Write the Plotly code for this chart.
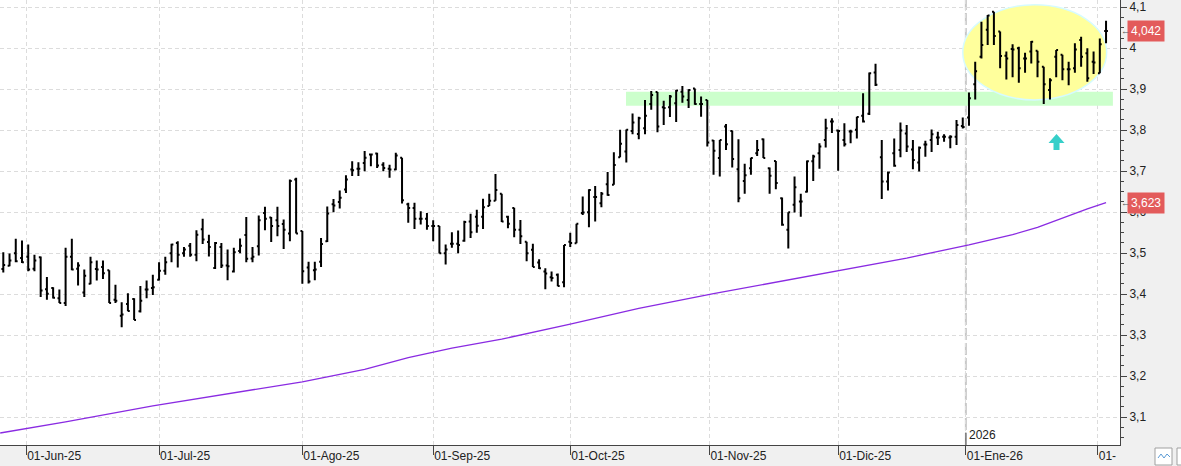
import numpy as np
import pandas as pd
import plotly.graph_objects as go

# ---------------- data ----------------
start_date = "2025-05-27"
end_date = "2026-02-03"
holidays = ["2025-12-25", "2025-12-26", "2026-01-01"]

opens = [3.461, 3.469, 3.500, 3.488, 3.491, 3.462, 3.490, 3.412, 3.415, 3.390,
         3.378, 3.491, 3.462, 3.404, 3.425, 3.461, 3.466, 3.458, 3.386, 3.347,
         3.376, 3.388, 3.358, 3.411, 3.415, 3.435, 3.457, 3.500, 3.525, 3.500,
         3.518, 3.496, 3.558, 3.527, 3.464, 3.515, 3.470, 3.455, 3.505, 3.544,
         3.487, 3.517, 3.598, 3.587, 3.580, 3.571, 3.548, 3.680, 3.554, 3.465,
         3.458, 3.479, 3.529, 3.619, 3.625, 3.655, 3.704, 3.706, 3.720, 3.741,
         3.743, 3.716, 3.706, 3.704, 3.733, 3.619, 3.610, 3.584, 3.584, 3.566,
         3.566, 3.500, 3.523, 3.523, 3.530, 3.577, 3.589, 3.589, 3.615, 3.628,
         3.645, 3.589, 3.610, 3.557, 3.528, 3.508, 3.477, 3.455, 3.441, 3.447,
         3.429, 3.528, 3.524, 3.598, 3.600, 3.637, 3.622, 3.668, 3.667, 3.734,
         3.748, 3.798, 3.791, 3.805, 3.864, 3.893, 3.856, 3.856, 3.866, 3.894,
         3.874, 3.902, 3.864, 3.874, 3.775, 3.732, 3.809, 3.798, 3.705, 3.676,
         3.707, 3.744, 3.778, 3.707, 3.725, 3.634, 3.557, 3.618, 3.626, 3.650,
         3.724, 3.744, 3.776, 3.821, 3.799, 3.776, 3.797, 3.801, 3.835, 3.840,
         3.941, 3.734, 3.675, 3.744, 3.752, 3.792, 3.753, 3.721, 3.765, 3.776,
         3.782, 3.784, 3.782, 3.784, 3.810, 3.831, 3.912, 3.979, 4.045, 4.089,
         4.041, 3.982, 3.998, 4.000, 3.975, 3.992, 3.994, 3.955, 3.898, 3.979,
         3.984, 3.949, 3.951, 4.020, 3.988, 3.967, 3.939, 4.042]

highs = [3.502, 3.499, 3.535, 3.531, 3.521, 3.496, 3.492, 3.442, 3.417, 3.411,
         3.513, 3.535, 3.478, 3.460, 3.491, 3.482, 3.482, 3.458, 3.423, 3.380,
         3.402, 3.390, 3.420, 3.433, 3.447, 3.478, 3.491, 3.523, 3.529, 3.515,
         3.525, 3.556, 3.584, 3.545, 3.527, 3.525, 3.509, 3.513, 3.536, 3.588,
         3.515, 3.592, 3.613, 3.588, 3.613, 3.582, 3.680, 3.684, 3.554, 3.479,
         3.479, 3.537, 3.614, 3.632, 3.653, 3.690, 3.724, 3.722, 3.749, 3.743,
         3.745, 3.722, 3.716, 3.745, 3.733, 3.623, 3.623, 3.602, 3.598, 3.580,
         3.566, 3.521, 3.551, 3.555, 3.579, 3.596, 3.606, 3.633, 3.645, 3.693,
         3.645, 3.591, 3.611, 3.581, 3.528, 3.523, 3.485, 3.463, 3.455, 3.450,
         3.520, 3.550, 3.572, 3.638, 3.656, 3.664, 3.649, 3.698, 3.746, 3.801,
         3.802, 3.841, 3.833, 3.874, 3.896, 3.893, 3.872, 3.886, 3.898, 3.908,
         3.900, 3.902, 3.882, 3.874, 3.776, 3.776, 3.815, 3.799, 3.778, 3.718,
         3.733, 3.776, 3.780, 3.709, 3.725, 3.636, 3.600, 3.687, 3.645, 3.726,
         3.740, 3.768, 3.828, 3.829, 3.801, 3.817, 3.801, 3.833, 3.890, 3.941,
         3.962, 3.776, 3.699, 3.780, 3.819, 3.813, 3.776, 3.760, 3.774, 3.802,
         3.796, 3.790, 3.788, 3.825, 3.831, 3.892, 3.967, 4.065, 4.081, 4.089,
         4.041, 3.992, 4.010, 4.004, 3.989, 4.018, 3.994, 3.955, 3.927, 3.996,
         3.984, 3.967, 4.012, 4.028, 4.000, 3.992, 4.024, 4.067]

lows = [3.453, 3.468, 3.478, 3.476, 3.456, 3.456, 3.393, 3.386, 3.389, 3.378,
        3.371, 3.458, 3.421, 3.393, 3.424, 3.433, 3.437, 3.378, 3.378, 3.319,
        3.358, 3.337, 3.355, 3.390, 3.398, 3.433, 3.447, 3.478, 3.465, 3.491,
        3.491, 3.480, 3.522, 3.492, 3.461, 3.464, 3.434, 3.453, 3.500, 3.478,
        3.478, 3.494, 3.556, 3.527, 3.541, 3.510, 3.529, 3.548, 3.425, 3.426,
        3.434, 3.466, 3.527, 3.600, 3.609, 3.647, 3.688, 3.688, 3.700, 3.712,
        3.708, 3.700, 3.684, 3.702, 3.621, 3.574, 3.559, 3.570, 3.557, 3.529,
        3.499, 3.472, 3.513, 3.500, 3.528, 3.537, 3.550, 3.559, 3.615, 3.628,
        3.576, 3.561, 3.539, 3.522, 3.480, 3.466, 3.461, 3.412, 3.431, 3.419,
        3.417, 3.515, 3.524, 3.593, 3.563, 3.577, 3.612, 3.640, 3.667, 3.734,
        3.721, 3.790, 3.778, 3.790, 3.850, 3.795, 3.813, 3.832, 3.820, 3.867,
        3.854, 3.862, 3.833, 3.760, 3.691, 3.687, 3.752, 3.709, 3.624, 3.645,
        3.691, 3.737, 3.732, 3.645, 3.656, 3.567, 3.511, 3.599, 3.589, 3.648,
        3.676, 3.706, 3.758, 3.793, 3.701, 3.760, 3.768, 3.780, 3.819, 3.837,
        3.908, 3.632, 3.653, 3.711, 3.734, 3.747, 3.705, 3.699, 3.735, 3.747,
        3.764, 3.772, 3.756, 3.764, 3.804, 3.811, 3.875, 3.975, 4.008, 4.008,
        3.951, 3.924, 3.929, 3.916, 3.940, 3.963, 3.929, 3.864, 3.875, 3.929,
        3.922, 3.910, 3.940, 3.955, 3.918, 3.937, 3.939, 4.012]

closes = [3.471, 3.482, 3.480, 3.478, 3.460, 3.482, 3.409, 3.401, 3.391, 3.378,
          3.491, 3.460, 3.470, 3.445, 3.478, 3.460, 3.451, 3.378, 3.384, 3.350,
          3.359, 3.337, 3.384, 3.411, 3.417, 3.457, 3.478, 3.521, 3.496, 3.509,
          3.496, 3.545, 3.533, 3.515, 3.525, 3.470, 3.468, 3.502, 3.518, 3.486,
          3.491, 3.580, 3.584, 3.566, 3.566, 3.557, 3.676, 3.548, 3.456, 3.431,
          3.460, 3.522, 3.597, 3.616, 3.635, 3.680, 3.702, 3.706, 3.733, 3.741,
          3.714, 3.708, 3.704, 3.738, 3.629, 3.610, 3.584, 3.584, 3.566, 3.566,
          3.500, 3.509, 3.523, 3.520, 3.576, 3.551, 3.567, 3.612, 3.628, 3.654,
          3.577, 3.572, 3.557, 3.541, 3.500, 3.466, 3.463, 3.450, 3.439, 3.420,
          3.520, 3.525, 3.572, 3.599, 3.654, 3.637, 3.645, 3.642, 3.715, 3.767,
          3.801, 3.819, 3.829, 3.835, 3.886, 3.809, 3.854, 3.882, 3.897, 3.882,
          3.898, 3.864, 3.864, 3.770, 3.750, 3.776, 3.766, 3.730, 3.634, 3.690,
          3.732, 3.752, 3.732, 3.689, 3.671, 3.569, 3.600, 3.661, 3.626, 3.724,
          3.736, 3.760, 3.805, 3.821, 3.798, 3.766, 3.797, 3.832, 3.821, 3.939,
          3.911, 3.675, 3.697, 3.713, 3.799, 3.760, 3.727, 3.757, 3.765, 3.790,
          3.782, 3.784, 3.784, 3.813, 3.808, 3.878, 3.944, 4.008, 4.080, 4.030,
          3.981, 3.975, 3.997, 3.951, 3.975, 4.016, 3.967, 3.912, 3.922, 3.996,
          3.949, 3.949, 3.997, 3.979, 3.927, 3.965, 4.010, 4.042]

# moving average read at selected bar positions
ma_idx = [-0.5, 10, 24, 36, 48, 58, 65, 72, 80, 91, 102, 114, 125, 134, 145, 155, 162, 166, 171, 174, 177]
ma_val = [3.061, 3.088, 3.127, 3.157, 3.186, 3.216, 3.245, 3.268, 3.290, 3.327, 3.365, 3.401,
          3.432, 3.456, 3.488, 3.520, 3.545, 3.563, 3.592, 3.608, 3.623]

month_starts = ["2025-06-01", "2025-07-01", "2025-08-01", "2025-09-01", "2025-10-01",
                "2025-11-01", "2025-12-01", "2026-01-01", "2026-02-01"]
month_labels = ["01-Jun-25", "01-Jul-25", "01-Ago-25", "01-Sep-25", "01-Oct-25",
                "01-Nov-25", "01-Dic-25", "01-Ene-26", "01-"]
year_start = "2026-01-01"
year_label = "2026"

last_price = 4.042
last_ma = 3.623
price_labels = ["4,042", "3,623"]
band_low, band_high = 3.860, 3.894
ellipse_low, ellipse_high = 3.874, 4.106

# ---------------- axis positions ----------------
dates = pd.bdate_range(start_date, end_date)
dates = dates[~dates.isin(pd.to_datetime(holidays))]
idx = np.arange(len(dates))
date_ord = np.array([d.toordinal() for d in dates], dtype=float)


def pos_of(date_str):
    return float(np.interp(pd.Timestamp(date_str).toordinal(), date_ord, idx))


tick_pos = [pos_of(d) for d in month_starts]
year_pos = pos_of(year_start)

x_min, x_max = -0.53, 179.24
y_min, y_max = 3.0317, 4.1178

fig = go.Figure()

fig.add_trace(go.Scatter(
    x=ma_idx, y=ma_val, mode="lines",
    line=dict(color="#8a2be2", width=1.3),
    hoverinfo="skip", showlegend=False))

fig.add_trace(go.Ohlc(
    x=idx, open=opens, high=highs, low=lows, close=closes,
    text=[d.strftime("%d-%m-%Y") for d in dates],
    increasing=dict(line=dict(color="black", width=2)),
    decreasing=dict(line=dict(color="black", width=2)),
    tickwidth=0.3, showlegend=False))

shapes = [
    # year separator
    dict(type="line", xref="x", yref="paper", x0=year_pos, x1=year_pos, y0=0, y1=1,
         line=dict(color="#c8c8c8", width=2, dash="12px,3px"), layer="between"),
    # green band
    dict(type="rect", xref="x", yref="y", x0=99.95, x1=178.1, y0=band_low, y1=band_high,
         fillcolor="#ccffcc", line=dict(width=0), layer="between"),
    # yellow ellipse
    dict(type="circle", xref="x", yref="y", x0=154.0, x1=177.1, y0=ellipse_low, y1=ellipse_high,
         fillcolor="#ffff9c", line=dict(color="#d6fbff", width=1.5), layer="between"),
    # cyan arrow
    dict(type="path", xref="x", yref="y", xsizemode="pixel", ysizemode="pixel",
         xanchor=169.05, yanchor=3.771,
         path="M 0,8 L 8,-1 L 3,-1 L 3,-8 L -3,-8 L -3,-1 L -8,-1 Z",
         fillcolor="#36cfc9", line=dict(width=0), layer="above"),
    # small dark tick at year label
    dict(type="line", xref="x", yref="paper", x0=year_pos, x1=year_pos, y0=0, y1=0.028,
         line=dict(color="#555", width=1), layer="above"),
    # bottom-right little buttons
    dict(type="rect", xref="paper", yref="paper", x0=1155 / 1120, x1=1172 / 1120,
         y0=-20 / 445, y1=-3 / 445, fillcolor="white", line=dict(color="#a0a0a0", width=1)),
    dict(type="path", xref="paper", yref="paper",
         path=f"M {1158/1120},{-13/445} L {1161/1120},{-9/445} L {1164/1120},{-13/445} L {1167/1120},{-9/445} L {1170/1120},{-12/445}",
         line=dict(color="#5b9bd5", width=1)),
    dict(type="rect", xref="paper", yref="paper", x0=1177 / 1120, x1=1190 / 1120,
         y0=-20 / 445, y1=-3 / 445, fillcolor="white", line=dict(color="#a0a0a0", width=1)),
]

annotations = [
    dict(xref="x", yref="paper", x=year_pos, y=0, xanchor="left", yanchor="bottom",
         xshift=1, yshift=1, text=year_label, showarrow=False,
         font=dict(size=12, color="#222")),
]
for val, txt in zip([last_price, last_ma], price_labels):
    annotations.append(dict(xref="paper", yref="y", x=1.0, y=val, xanchor="left", yanchor="middle",
                            xshift=7, text=txt, showarrow=False, bgcolor="#e35b5b",
                            borderpad=3, font=dict(size=12, color="white")))
    annotations.append(dict(xref="paper", yref="y", x=1.0, y=val, xanchor="left", yanchor="middle",
                            xshift=-1, text="←", showarrow=False,
                            font=dict(size=9, color="#555")))

fig.update_layout(
    width=1181, height=466,
    margin=dict(l=0, r=61, t=0, b=21),
    paper_bgcolor="#f0f0f0", plot_bgcolor="white",
    separators=",.",
    font=dict(family="Liberation Sans, Arial, sans-serif", size=12, color="#222"),
    showlegend=False,
    shapes=shapes, annotations=annotations,
    xaxis=dict(range=[x_min, x_max], tickmode="array", tickvals=tick_pos, ticktext=month_labels,
               ticks="outside", ticklen=9, tickcolor="#444", ticklabelposition="outside right",
               showgrid=True, gridcolor="#dcdcdc", griddash="4px,3px", gridwidth=1,
               showline=True, linecolor="#444", linewidth=1, zeroline=False,
               rangeslider=dict(visible=False), fixedrange=True,
               tickfont=dict(size=12, color="#222")),
    yaxis=dict(range=[y_min, y_max], side="right", tick0=0, dtick=0.1,
               ticks="outside", ticklen=6, tickcolor="#444",
               minor=dict(dtick=0.025, ticks="outside", ticklen=3, tickcolor="#444", showgrid=False),
               showgrid=True, gridcolor="#dcdcdc", griddash="4px,3px", gridwidth=1,
               showline=True, linecolor="#444", linewidth=1, zeroline=False, fixedrange=True,
               tickfont=dict(size=12, color="#222")),
)

fig.write_html("out.html")
